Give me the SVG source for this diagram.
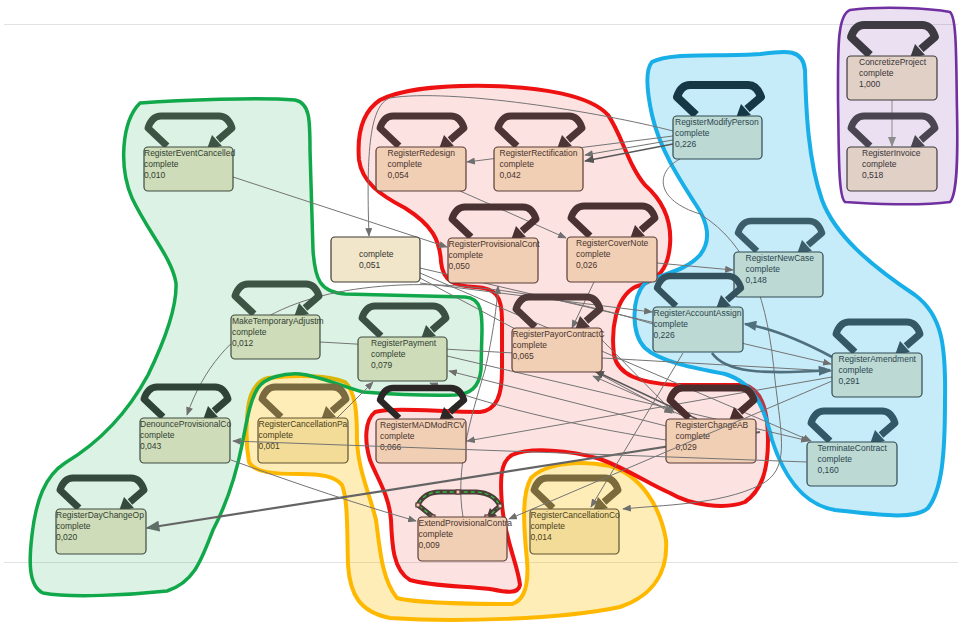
<svg xmlns="http://www.w3.org/2000/svg" width="960" height="624" viewBox="0 0 960 624">
<style>
text{font-family:"Liberation Sans",Arial,sans-serif;font-size:8.5px}
.node rect{stroke-width:1.2}
.g rect{fill:#cfdcb9;stroke:#3e4d40}.g text{fill:#2f3f33}
.r rect{fill:#f0cfb4;stroke:#5a3c38}.r text{fill:#4a332f}
.b rect{fill:#bcd9d3;stroke:#2f4a52}.b text{fill:#2b4650}
.p rect{fill:#e0d0c6;stroke:#3d3a3d}.p text{fill:#3a3438}
.y rect{fill:#f2dc97;stroke:#5e5230}.y text{fill:#4a4020}
.n rect{fill:#f1e6c9;stroke:#3d3a35}.n text{fill:#333}
.e{fill:none;stroke:#747474;stroke-width:1;marker-end:url(#ah)}
.e.dk{stroke:#585858;stroke-width:1.4;marker-end:url(#ahd)}
.e.lt{stroke:#8c8c8c;marker-end:url(#ahl)}
.e.bl{stroke:#4f6f7c;stroke-width:2.6;marker-end:url(#ahb)}
.e.tk{stroke:#646464;stroke-width:2.2;marker-end:url(#aht)}
.cl{stroke-linejoin:round}
</style>
<defs>
<marker id="ah" viewBox="0 0 10 8" refX="9" refY="4" markerWidth="9" markerHeight="7" orient="auto" markerUnits="userSpaceOnUse"><path d="M0,0 L10,4 L0,8 z" fill="#6f6f6f"/></marker>
<marker id="ahd" viewBox="0 0 10 8" refX="9" refY="4" markerWidth="10" markerHeight="8" orient="auto" markerUnits="userSpaceOnUse"><path d="M0,0 L10,4 L0,8 z" fill="#555"/></marker>
<marker id="ahl" viewBox="0 0 10 8" refX="9" refY="4" markerWidth="10" markerHeight="8" orient="auto" markerUnits="userSpaceOnUse"><path d="M0,0 L10,4 L0,8 z" fill="#8c8c8c"/></marker>
<marker id="ahb" viewBox="0 0 10 8" refX="9" refY="4" markerWidth="13" markerHeight="10" orient="auto" markerUnits="userSpaceOnUse"><path d="M0,0 L10,4 L0,8 z" fill="#4f6f7c"/></marker>
<marker id="aht" viewBox="0 0 10 8" refX="9" refY="4" markerWidth="14" markerHeight="11" orient="auto" markerUnits="userSpaceOnUse"><path d="M0,0 L10,4 L0,8 z" fill="#5f6f68"/></marker>
<!-- self-loop drawn above a node's top edge, coloured through currentColor -->
<g id="loop">
<path d="M23,-1 L4,-19 Q8,-31 17,-31 L75,-31 Q84,-31 88,-19 L74,-7" fill="none" stroke="currentColor" stroke-linejoin="round"/>
<polygon points="63,2 78,-1 68,-12" fill="currentColor" stroke="none"/>
</g>
</defs>

<rect width="960" height="624" fill="#fff"/>
<g id="rulers" stroke="#e2e2e2" stroke-width="1">
<line x1="4" y1="24.5" x2="958" y2="24.5"/>
<line x1="4" y1="562.5" x2="958" y2="562.5"/>
</g>

<g id="clusters" class="cl">
<path id="cluster-yellow" d="M268,378 C300,374 330,376 345,382 C356,392 357,415 357,440 C358,470 370,495 376,520 C380,550 382,580 397,598 C420,604 480,604 512,604 C525,600 529,585 527,560 C524,530 521,495 531,478 C546,463 580,460 610,466 C640,475 660,505 666,540 C668,570 655,595 620,607 C560,620 450,622 390,618 C360,612 350,595 348,565 C347,530 348,500 342,485 C335,476 320,474 300,474 C275,474 255,473 249,462 C245,440 246,410 251,395 C255,385 260,380 268,378 Z" fill="rgba(255,192,0,0.28)" stroke="#ffb800" stroke-width="4"/>
<path id="cluster-green" d="M140,103 C180,100 260,97 295,100 C310,103 310,120 310,150 L313,250 C315,280 320,292 345,294 L465,297 C482,298 482,315 482,330 L481,370 C479,388 470,394 455,395 C420,396 390,394 363,392 C340,386 320,376 300,374 C285,373 265,377 258,388 C250,400 247,420 242,445 C235,480 226,505 213,530 C202,558 195,582 167,591 C130,595 70,598 43,593 C28,586 29,560 32,535 C36,500 45,476 65,463 C100,442 128,412 148,375 C165,340 177,305 176,283 C172,258 148,232 132,198 C119,168 121,122 140,103 Z" fill="rgba(18,168,74,0.15)" stroke="#10a84a" stroke-width="3.5"/>
<path id="cluster-red" d="M380,100 C400,90 440,85 490,86 C540,87 590,95 608,115 C622,135 628,165 645,185 C662,200 672,220 670,245 C668,268 660,280 635,287 C615,298 611,330 614,355 C618,375 640,383 675,385 L745,385 C762,390 768,410 768,440 C768,470 762,490 745,502 C725,510 690,505 670,493 C650,485 630,470 600,459 C570,450 530,447 512,455 C500,462 500,480 502,505 C505,540 518,565 520,585 C518,595 505,592 490,589 C460,586 430,586 410,580 C393,570 392,545 391,520 C389,495 378,480 370,460 C364,440 365,420 375,412 C395,407 440,412 480,412 C497,410 502,395 502,370 L502,320 C502,295 495,288 475,287 C455,286 443,282 441,262 C440,240 432,225 405,208 C380,195 362,182 359,160 C357,135 362,112 380,100 Z" fill="rgba(238,17,17,0.12)" stroke="#ee1111" stroke-width="4"/>
<path id="cluster-blue" d="M652,62 C670,52 720,57 760,54 C785,51 803,48 805,70 C806,110 808,160 822,200 C835,235 870,265 915,295 C942,315 946,345 945,400 C945,455 942,490 928,508 C915,520 880,515 835,510 C805,505 785,480 772,440 C765,410 755,383 725,374 C695,368 660,362 645,348 C632,335 630,300 645,283 C660,274 685,272 700,255 C712,240 707,222 698,208 C680,180 660,150 652,115 C647,92 645,70 652,62 Z" fill="rgba(26,174,232,0.25)" stroke="#18aee8" stroke-width="4"/>
<path id="cluster-purple" d="M850,10 C880,6 930,8 950,12 C957,18 956,60 957,110 C958,160 957,195 950,202 C920,206 870,204 845,202 C838,196 839,150 838,100 C838,50 837,15 850,10 Z" fill="rgba(112,48,160,0.15)" stroke="#7030a0" stroke-width="2.6"/>
</g>

<g id="connectors">
<path class="e" d="M233,177 L447,247"/>
<path class="e" d="M673,136 L467,162"/>
<path class="e" d="M673,140 L585,155"/>
<path class="e dk" d="M673,144 L585,161"/>
<path class="e" d="M673,131 C600,112 450,88 390,98 C370,105 366,150 369,236"/>
<path class="e" d="M460,191 L566,238"/>
<path class="e lt" d="M892,100 L892,146"/>
<path class="e" d="M657,263 L733,270"/>
<path class="e" d="M594,282 L572,328"/>
<path class="e" d="M463,517 C455,470 470,420 485,370 C493,335 497,305 498,286"/>
<path class="e" d="M420,268 L831,364"/>
<path class="e" d="M320,342 L831,371"/>
<path class="e" d="M832,377 L467,441"/>
<path class="e tk" d="M760,432 L147,528"/>
<path class="e" d="M653,324 C560,296 470,282 400,285 C300,290 220,320 187,415"/>
<path class="e" d="M420,273 L811,441"/>
<path class="e" d="M420,283 L652,312"/>
<path class="e" d="M420,278 L672,413"/>
<path class="e" d="M602,340 L674,413"/>
<path class="e" d="M447,356 L809,441"/>
<path class="e" d="M337,418 L373,382"/>
<path class="e" d="M231,460 C300,485 360,505 416,521"/>
<path class="e" d="M690,419 L593,376"/>
<path class="e dk" d="M697,419 L595,371"/>
<path class="e" d="M683,353 L591,507"/>
<path class="e" d="M680,159 C655,172 655,200 700,214 C750,245 768,300 775,380 C782,440 790,470 760,485 C720,505 660,505 623,509"/>
<path class="e" d="M666,426 L449,371"/>
<path class="e" d="M666,440 C600,430 500,410 430,383"/>
<path class="e bl" d="M832,357 C800,340 770,328 745,324"/>
<path class="e bl" d="M712,353 C725,372 760,375 830,370"/>
</g>

<g id="nodes">
<g id="n-RegisterEventCancelled" class="node g"><use href="#loop" x="144" y="147" color="#3d5444" stroke-width="7"/><rect x="144" y="147" width="89" height="44" rx="4"/><text x="144" y="156">RegisterEventCancelled</text><text x="144" y="167">complete</text><text x="144" y="178">0,010</text></g>
<g id="n-MakeTemporaryAdjustm" class="node g"><use href="#loop" x="231" y="315" color="#3d5444" stroke-width="7"/><rect x="231" y="315" width="89" height="44" rx="4"/><text x="232" y="324">MakeTemporaryAdjustm</text><text x="232" y="335">complete</text><text x="232" y="346">0,012</text></g>
<g id="n-RegisterPayment" class="node g"><use href="#loop" x="358" y="337" color="#3b4f42" stroke-width="7"/><rect x="358" y="337" width="89" height="44" rx="4"/><text x="371" y="346">RegisterPayment</text><text x="371" y="357">complete</text><text x="371" y="368">0,079</text></g>
<g id="n-DenounceProvisionalCo" class="node g"><use href="#loop" x="140" y="418" color="#2f4437" stroke-width="7"/><rect x="140" y="418" width="90" height="45" rx="4"/><text x="140" y="427">DenounceProvisionalCo</text><text x="140" y="438">complete</text><text x="140" y="449">0,043</text></g>
<g id="n-RegisterDayChangeOp" class="node g"><use href="#loop" x="56" y="509" color="#354a3d" stroke-width="7"/><rect x="56" y="509" width="90" height="45" rx="4"/><text x="56" y="518">RegisterDayChangeOp</text><text x="56" y="529">complete</text><text x="56" y="540">0,020</text></g>

<g id="n-RegisterRedesign" class="node r"><use href="#loop" x="376" y="147" color="#4d3535" stroke-width="7"/><rect x="376" y="147" width="90" height="44" rx="4"/><text x="387.5" y="156">RegisterRedesign</text><text x="387.5" y="167">complete</text><text x="387.5" y="178">0,054</text></g>
<g id="n-RegisterRectification" class="node r"><use href="#loop" x="494" y="147" color="#4d3535" stroke-width="7"/><rect x="494" y="147" width="89" height="44" rx="4"/><text x="499.5" y="156">RegisterRectification</text><text x="499.5" y="167">complete</text><text x="499.5" y="178">0,042</text></g>
<g id="n-RegisterProvisionalCont" class="node r"><use href="#loop" x="448" y="238" color="#4a3232" stroke-width="7"/><rect x="448" y="238" width="90" height="45" rx="4"/><text x="448.5" y="247">RegisterProvisionalCont</text><text x="448.5" y="258">complete</text><text x="448.5" y="269">0,050</text></g>
<g id="n-RegisterCoverNote" class="node r"><use href="#loop" x="567" y="237" color="#4a3232" stroke-width="7"/><rect x="567" y="237" width="90" height="45" rx="4"/><text x="576" y="246">RegisterCoverNote</text><text x="576" y="257">complete</text><text x="576" y="268">0,026</text></g>
<g id="n-RegisterPayorContractC" class="node r"><use href="#loop" x="512" y="328" color="#4f3838" stroke-width="7"/><rect x="512" y="328" width="90" height="44" rx="4"/><text x="512.5" y="337">RegisterPayorContractC</text><text x="512.5" y="348">complete</text><text x="512.5" y="359">0,065</text></g>
<g id="n-RegisterMADModRCV" class="node r"><use href="#loop" x="376" y="419" color="#2b2726" stroke-width="6.5"/><rect x="376" y="419" width="90" height="44" rx="4"/><text x="380" y="428">RegisterMADModRCV</text><text x="380" y="439">complete</text><text x="380" y="450">0,066</text></g>
<g id="n-RegisterChangeAB" class="node r"><use href="#loop" x="666" y="419" color="#4a2e2e" stroke-width="7"/><rect x="666" y="419" width="90" height="44" rx="4"/><text x="675.5" y="428">RegisterChangeAB</text><text x="675.5" y="439">complete</text><text x="675.5" y="450">0,029</text></g>
<g id="n-ExtendProvisionalContra" class="node r">
<path d="M433,517 L418,505 Q424,492 440,492 L476,492 Q494,493 500,506 L493,512" fill="none" stroke="#4d3a3a" stroke-width="5" stroke-linejoin="round"/>
<polygon points="486,519 497,516 490,508" fill="#4d3a3a"/>
<path d="M433,517 L418,505 Q424,492 440,492 L476,492 Q494,493 500,506 L489,516" fill="none" stroke="#2fbf3a" stroke-width="1.4" stroke-dasharray="4 3"/>
<g fill="#c4c4d0" stroke="#8a8a96" stroke-width="0.6"><rect x="416" y="503" width="4" height="4"/><rect x="431" y="515" width="4" height="4"/><rect x="456" y="490" width="4" height="4"/><rect x="498" y="504" width="4" height="4"/><rect x="485" y="515" width="4" height="4"/></g>
<rect x="418" y="517" width="89" height="44" rx="4"/><text x="418.5" y="526">ExtendProvisionalContra</text><text x="418.5" y="537">complete</text><text x="418.5" y="548">0,009</text></g>

<g id="n-RegisterModifyPerson" class="node b"><use href="#loop" x="673" y="116" color="#163845" stroke-width="8"/><rect x="673" y="116" width="89" height="43" rx="4"/><text x="675" y="125">RegisterModifyPerson</text><text x="675" y="136">complete</text><text x="675" y="147">0,226</text></g>
<g id="n-RegisterNewCase" class="node b"><use href="#loop" x="734" y="252" color="#3b5e6a" stroke-width="6.5"/><rect x="734" y="252" width="89" height="45" rx="4"/><text x="745.5" y="261">RegisterNewCase</text><text x="745.5" y="272">complete</text><text x="745.5" y="283">0,148</text></g>
<g id="n-RegisterAccountAssign" class="node b"><use href="#loop" x="653" y="307" color="#34525d" stroke-width="6.5"/><rect x="653" y="307" width="90" height="45" rx="4"/><text x="653.5" y="316">RegisterAccountAssign</text><text x="653.5" y="327">complete</text><text x="653.5" y="338">0,226</text></g>
<g id="n-RegisterAmendment" class="node b"><use href="#loop" x="832" y="353" color="#355867" stroke-width="7"/><rect x="832" y="353" width="90" height="44" rx="4"/><text x="838.5" y="362">RegisterAmendment</text><text x="838.5" y="373">complete</text><text x="838.5" y="384">0,291</text></g>
<g id="n-TerminateContract" class="node b"><use href="#loop" x="807" y="442" color="#315866" stroke-width="7"/><rect x="807" y="442" width="90" height="44" rx="4"/><text x="817.5" y="451">TerminateContract</text><text x="817.5" y="462">complete</text><text x="817.5" y="473">0,160</text></g>

<g id="n-ConcretizeProject" class="node p"><use href="#loop" x="847" y="56" color="#3d3a42" stroke-width="8"/><rect x="847" y="56" width="90" height="44" rx="4"/><text x="859" y="65">ConcretizeProject</text><text x="859" y="76">complete</text><text x="859" y="87">1,000</text></g>
<g id="n-RegisterInvoice" class="node p"><use href="#loop" x="847" y="147" color="#4a4550" stroke-width="7"/><rect x="847" y="147" width="90" height="44" rx="4"/><text x="862" y="156">RegisterInvoice</text><text x="862" y="167">complete</text><text x="862" y="178">0,518</text></g>

<g id="n-RegisterCancellationPa" class="node y"><use href="#loop" x="258" y="418" color="#7a6a3f" stroke-width="7"/><rect x="258" y="418" width="90" height="45" rx="4"/><text x="258.5" y="427">RegisterCancellationPa</text><text x="258.5" y="438">complete</text><text x="258.5" y="449">0,001</text></g>
<g id="n-RegisterCancellationCo" class="node y"><use href="#loop" x="530" y="509" color="#7b6b3c" stroke-width="7"/><rect x="530" y="509" width="89" height="45" rx="4"/><text x="530.5" y="518">RegisterCancellationCo</text><text x="530.5" y="529">complete</text><text x="530.5" y="540">0,014</text></g>

<g id="n-complete" class="node n"><rect x="331" y="237" width="89" height="45" rx="4"/><text x="359" y="257">complete</text><text x="359" y="268">0,051</text></g>
</g>

<g id="connectors-over">
<path class="e" d="M807,462 L233,441"/>
<path class="e" d="M832,381 L509,519"/>
</g>
</svg>
